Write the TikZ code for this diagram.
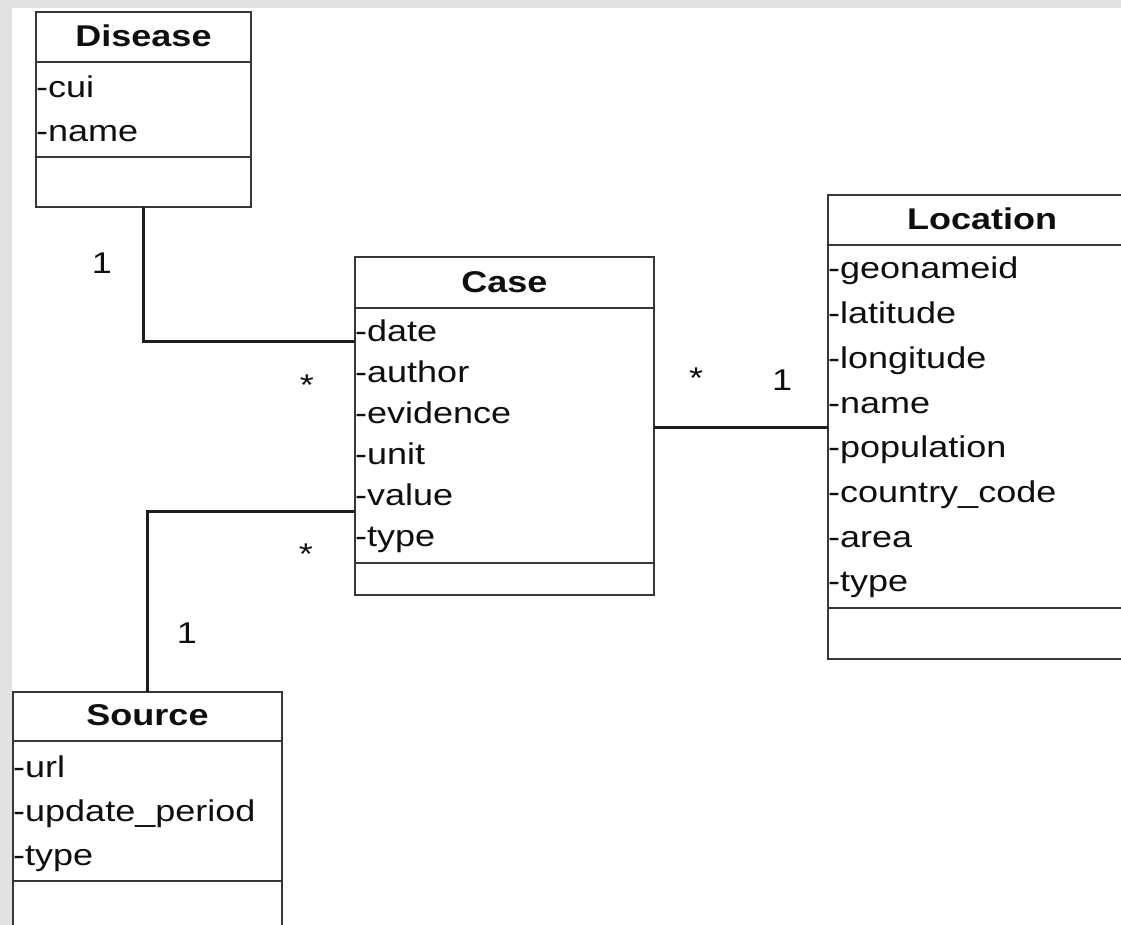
\documentclass[tikz,border=0pt]{standalone}
\usepackage{fontspec}
\setmainfont{Liberation Sans}[FakeStretch=1.2]
\definecolor{bandgray}{RGB}{226,226,226}
\definecolor{boxline}{RGB}{55,55,55}
\definecolor{connline}{RGB}{30,30,30}
\definecolor{txt}{RGB}{15,15,15}
\begin{document}
\begin{tikzpicture}[x=1pt,y=-1pt,
  classbox/.style={draw=boxline, line width=2.6pt, fill=white, inner sep=0pt, outer sep=0pt, anchor=north west},
  sepline/.style={draw=boxline, line width=2.6pt},
  conn/.style={draw=connline, line width=3pt},
  title/.style={font=\fontsize{30}{30}\selectfont\bfseries, text=txt, anchor=base, inner sep=0pt},
  attr/.style={font=\fontsize{30}{30}\selectfont, text=txt, anchor=base west, inner sep=0pt},
  mult/.style={font=\fontsize{30}{30}\selectfont, text=txt, anchor=base, inner sep=0pt}]
\useasboundingbox (0,0) rectangle (1121,925);
\clip (0,0) rectangle (1121,925);
\fill[bandgray] (0,0) rectangle (1121,925);
\fill[white] (12,8) rectangle (1121,925);

% Disease
\node[classbox, minimum width=215pt, minimum height=195pt] (disease) at (36,12) {};
\draw[sepline] (36,62) -- (251,62);
\draw[sepline] (36,157) -- (251,157);
\node[title] (diseaseT) at (143.5,46.7) {Disease};
\node[attr] (dis1) at (36,97.3) {-cui};
\node[attr] (dis2) at (36,141.7) {-name};

% Case
\node[classbox, minimum width=299pt, minimum height=338pt] (case) at (355,257) {};
\draw[sepline] (355,308) -- (654,308);
\draw[sepline] (355,563) -- (654,563);
\node[title] (caseT) at (504.5,292.7) {Case};
\node[attr] (case1) at (355,341) {-date};
\node[attr] (case2) at (355,382) {-author};
\node[attr] (case3) at (355,423) {-evidence};
\node[attr] (case4) at (355,464) {-unit};
\node[attr] (case5) at (355,505) {-value};
\node[attr] (case6) at (355,546) {-type};

% Location
\node[classbox, minimum width=308pt, minimum height=464pt] (location) at (828,195) {};
\draw[sepline] (828,245) -- (1136,245);
\draw[sepline] (828,608) -- (1136,608);
\node[title] (locT) at (982,230) {Location};
\node[attr] (loc1) at (828,279) {-geonameid};
\node[attr] (loc2) at (828,323.7) {-latitude};
\node[attr] (loc3) at (828,368.4) {-longitude};
\node[attr] (loc4) at (828,413.1) {-name};
\node[attr] (loc5) at (828,457.8) {-population};
\node[attr] (loc6) at (828,502.5) {-country\_code};
\node[attr] (loc7) at (828,547.2) {-area};
\node[attr] (loc8) at (828,591.9) {-type};

% Source
\node[classbox, minimum width=269pt, minimum height=260pt] (source) at (13,692) {};
\draw[sepline] (13,741) -- (282,741);
\draw[sepline] (13,881) -- (282,881);
\node[title] (srcT) at (147.5,725) {Source};
\node[attr] (src1) at (13,777) {-url};
\node[attr] (src2) at (13,821.5) {-update\_period};
\node[attr] (src3) at (13,865) {-type};

% connectors
\draw[conn] (disease.south) |- ([yshift=-84pt]case.north west);
\draw[conn] (source.north) |- ([yshift=-254pt]case.north west);
\draw[conn] ([yshift=-170pt]case.north east) -- ([yshift=-232pt]location.north west);

% multiplicities
\node[mult] (m1) at (102,273) {1};
\node[mult] (m2) at (307,395) {*};
\node[mult] (m3) at (306,564) {*};
\node[mult] (m4) at (187,643) {1};
\node[mult] (m5) at (696,388) {*};
\node[mult] (m6) at (782,390.5) {1};
\end{tikzpicture}
\end{document}
